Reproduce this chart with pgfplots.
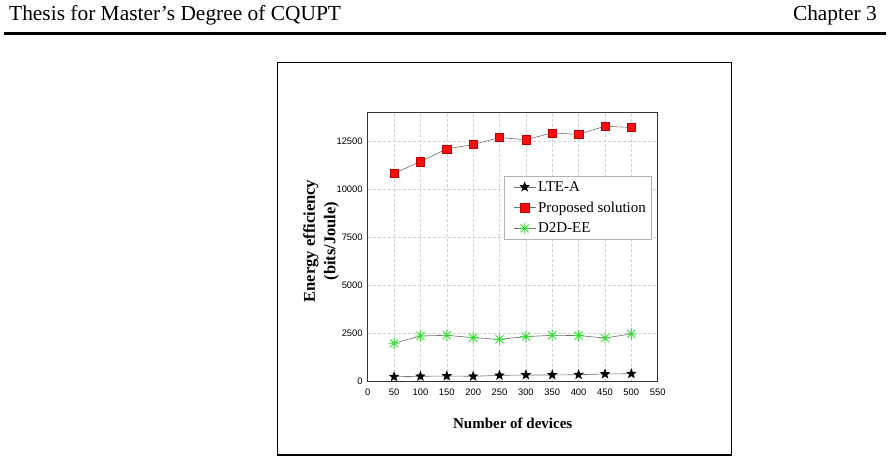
\documentclass[border=0pt]{standalone}
\usepackage{fontspec}
\setmainfont{Liberation Serif}
\setsansfont{Liberation Sans}
\usepackage{pgfplots}
\pgfplotsset{compat=1.18}

% filled five-pointed star
\pgfdeclareplotmark{fstar}{%
  \pgfpathmoveto{\pgfpointpolar{90}{\pgfplotmarksize}}%
  \pgfpathlineto{\pgfpointpolar{126}{0.42\pgfplotmarksize}}%
  \pgfpathlineto{\pgfpointpolar{162}{\pgfplotmarksize}}%
  \pgfpathlineto{\pgfpointpolar{198}{0.42\pgfplotmarksize}}%
  \pgfpathlineto{\pgfpointpolar{234}{\pgfplotmarksize}}%
  \pgfpathlineto{\pgfpointpolar{270}{0.42\pgfplotmarksize}}%
  \pgfpathlineto{\pgfpointpolar{306}{\pgfplotmarksize}}%
  \pgfpathlineto{\pgfpointpolar{342}{0.42\pgfplotmarksize}}%
  \pgfpathlineto{\pgfpointpolar{18}{\pgfplotmarksize}}%
  \pgfpathlineto{\pgfpointpolar{54}{0.42\pgfplotmarksize}}%
  \pgfpathclose
  \pgfusepathqfill}
% eight-spoke asterisk
\pgfdeclareplotmark{spokes}{%
  \pgfpathmoveto{\pgfqpoint{-\pgfplotmarksize}{0pt}}\pgfpathlineto{\pgfqpoint{\pgfplotmarksize}{0pt}}%
  \pgfpathmoveto{\pgfqpoint{0pt}{-\pgfplotmarksize}}\pgfpathlineto{\pgfqpoint{0pt}{\pgfplotmarksize}}%
  \pgfpathmoveto{\pgfpointpolar{45}{\pgfplotmarksize}}\pgfpathlineto{\pgfpointpolar{225}{\pgfplotmarksize}}%
  \pgfpathmoveto{\pgfpointpolar{135}{\pgfplotmarksize}}\pgfpathlineto{\pgfpointpolar{315}{\pgfplotmarksize}}%
  \pgfusepathqstroke}

\definecolor{sqred}{HTML}{F81010}
\definecolor{sqedge}{HTML}{C00000}
\definecolor{astgreen}{HTML}{33E033}
\definecolor{linegray}{HTML}{707070}

\begin{document}
\begin{tikzpicture}
\path[use as bounding box] (0pt,0pt) rectangle (892pt,-462pt);

% page header
\node[anchor=west,inner sep=0pt,font=\fontsize{21.4}{23}\selectfont] at (9pt,-15pt) {Thesis for Master's Degree of CQUPT};
\node[anchor=east,inner sep=0pt,font=\fontsize{21.4}{23}\selectfont] at (877pt,-15pt) {Chapter 3};
\draw[line width=3.2pt] (4pt,-33.3pt) -- (886pt,-33.3pt);

% figure frame
\draw[line width=1.4pt] (277.5pt,-62.5pt) rectangle (731.5pt,-455pt);

\begin{axis}[
  at={(367.7pt,-381.7pt)}, anchor=south west,
  scale only axis, width=290pt, height=269pt,
  xmin=0, xmax=550, ymin=0, ymax=14000,
  xtick={0,50,...,550},
  ytick={0,2500,...,12500},
  scaled y ticks=false,
  major tick length=0pt,
  grid=major,
  major grid style={densely dashed, gray!35, line width=0.5pt},
  axis line style={line width=1.1pt, black!80},
  tick label style={font=\sffamily\fontsize{9.4}{10}\selectfont},
  /pgf/number format/assume math mode=true,
  /pgf/number format/1000 sep={},
  xticklabel style={yshift=-3.5pt},
  yticklabel style={xshift=-1.5pt},
  xlabel={\textbf{Number of devices}},
  xlabel style={font=\fontsize{15}{17}\selectfont, at={(axis description cs:0.5,-0.1535)}, anchor=center},
  ylabel={\textbf{Energy efficiency}\\\textbf{(bits/Joule)}},
  ylabel style={font=\fontsize{16.5}{20.5}\selectfont, align=center,
    at={(axis description cs:-0.161,0.523)}, anchor=center},
  legend style={at={(0.47,0.765)}, anchor=north west, draw=gray!60, line width=0.8pt,
    font=\fontsize{15}{17}\selectfont, row sep=5pt, inner ysep=3pt, inner xsep=3pt,
    nodes={inner xsep=2pt}},
  legend cell align=left,
  legend image code/.code={%
    \path (0pt,0pt);
    \draw[mark repeat=2,mark phase=2,#1] plot coordinates {(6pt,0pt) (17pt,0pt) (28pt,0pt)};},
  every axis plot/.append style={line width=0.6pt},
]
\addplot[color=linegray, mark=fstar, mark size=5.6pt, mark options={fill=black, draw=black}]
  coordinates {(50,260) (100,280) (150,297) (200,280) (250,330) (300,350) (350,350) (400,365) (450,400) (500,417)};
\addlegendentry{LTE-A}
\addplot[color=linegray, mark=square*, mark size=4.1pt, mark options={fill=sqred, draw=sqedge, line width=0.4pt}]
  coordinates {(50,10850) (100,11450) (150,12120) (200,12340) (250,12710) (300,12590) (350,12950) (400,12865) (450,13300) (500,13230)};
\addlegendentry{Proposed solution}
\addplot[color=linegray, mark=spokes, mark size=5.7pt, mark options={draw=astgreen, line width=0.9pt}]
  coordinates {(50,2000) (100,2380) (150,2415) (200,2290) (250,2205) (300,2345) (350,2415) (400,2400) (450,2275) (500,2485)};
\addlegendentry{D2D-EE}
\end{axis}
\end{tikzpicture}
\end{document}
